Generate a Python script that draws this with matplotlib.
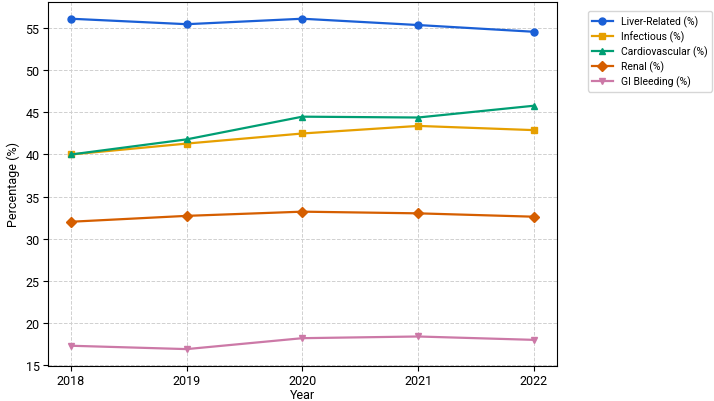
import matplotlib
matplotlib.use("Agg")
import matplotlib.pyplot as plt

plt.rcParams['font.family'] = ['Roboto', 'DejaVu Sans']

years = [2018, 2019, 2020, 2021, 2022]
liver = [56.15, 55.5, 56.15, 55.4, 54.6]
infectious = [40.0, 41.3, 42.5, 43.4, 42.9]
cardio = [40.0, 41.8, 44.5, 44.4, 45.8]
renal = [32.0, 32.7, 33.2, 33.0, 32.6]
gi = [17.25, 16.85, 18.15, 18.35, 17.95]

series = [
    ("Liver-Related (%)", liver, "#1a5fd6", "o"),
    ("Infectious (%)", infectious, "#e69f00", "s"),
    ("Cardiovascular (%)", cardio, "#009e73", "^"),
    ("Renal (%)", renal, "#d55e00", "D"),
    ("GI Bleeding (%)", gi, "#cc79a7", "v"),
]

fig, ax = plt.subplots(figsize=(7.14, 4.02), dpi=100)
fig.subplots_adjust(left=0.067, right=0.78, top=0.992, bottom=0.088)
for label, vals, color, marker in series:
    ax.plot(years, vals, color=color, marker=marker, linewidth=1.6, markersize=5, label=label)

ax.set_xticks(years)
ax.set_xlabel("Year", fontsize=9, labelpad=1)
ax.set_ylabel("Percentage (%)", fontsize=9)
ax.grid(True, linestyle='--', color='#d0d0d0', linewidth=0.7)
ax.tick_params(labelsize=9, pad=2.5)
ax.legend(loc='upper left', bbox_to_anchor=(1.05, 0.99), fontsize=7.5, labelspacing=0.35)
fig.savefig("out.png", dpi=100)
